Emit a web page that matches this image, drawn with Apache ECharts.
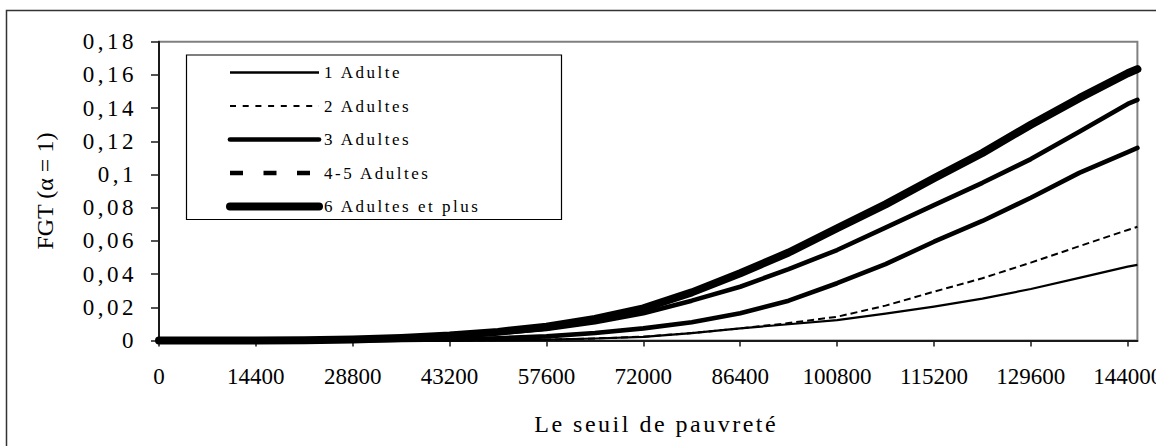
<!DOCTYPE html>
<html><head><meta charset="utf-8">
<script src="https://cdn.jsdelivr.net/npm/echarts@6/dist/echarts.min.js"></script>
<style>
html,body{margin:0;padding:0;background:#fff;}
#c{width:1156px;height:446px;}
svg text[style*="sp35"]{letter-spacing:3.5px;}
svg text[style*="sp25"]{letter-spacing:2.5px;}
</style></head><body><div id="c"></div>
<script>
// ---- data ----
const STEP = 1440;          // category step of the x axis
const X_MAX = 145440;       // last category
const xs = [0,7200,14400,21600,28800,36000,43200,50400,57600,64800,72000,79200,86400,93600,100800,108000,115200,122400,129600,136800,144000,145440];
const s1 = [0,0,0,0,0,0,0,0.0002,0.0005,0.0012,0.0022,0.0045,0.0073,0.0098,0.0123,0.0162,0.0204,0.0252,0.0310,0.0377,0.0445,0.0456];
const s2 = [0,0,0,0,0,0,0,0.0002,0.0005,0.0012,0.0023,0.0045,0.0073,0.0105,0.0143,0.0210,0.0294,0.0375,0.0469,0.0568,0.0666,0.0685];
const s3 = [0,0,0,0,0,0.0003,0.0007,0.0014,0.0025,0.0045,0.0073,0.0110,0.0164,0.0240,0.0345,0.0460,0.0595,0.0720,0.0860,0.1010,0.1135,0.1160];
const s4 = [0,0,0,0.0002,0.0005,0.0012,0.0025,0.0045,0.0070,0.0110,0.0164,0.0240,0.0324,0.0430,0.0545,0.0680,0.0816,0.0950,0.1093,0.1258,0.1425,0.1450];
const s5 = [0,0,0,0.0002,0.0006,0.0015,0.0030,0.0052,0.0083,0.0130,0.0194,0.0290,0.0405,0.0530,0.0676,0.0820,0.0977,0.1130,0.1300,0.1460,0.1610,0.1635];
const seriesNames = ['1 Adulte','2 Adultes','3 Adultes','4-5 Adultes','6 Adultes et plus'];
const seriesValues = [s1,s2,s3,s4,s5];
const yMin = 0, yMax = 0.18, yStep = 0.02;
const labelEvery = 10;      // categories between x tick labels
const xTitle = 'Le seuil de pauvreté';
const yTitle = 'FGT (\u03b1 = 1)';

// ---- styles ----
const serif = "'Liberation Serif'";
const lineStyles = [
  {width:2.2, type:'solid', cap:'butt'},
  {width:2, type:[7,4], cap:'butt'},
  {width:4.6, type:'solid', cap:'round'},
  {width:4.6, type:'solid', cap:'round'},
  {width:8, type:'solid', cap:'round'}
];
const legendLineStyles = [
  {width:2.5, type:'solid', cap:'butt'},
  {width:2.2, type:[6,6.7], cap:'butt'},
  {width:4.7, type:'solid', cap:'round'},
  {width:4.7, type:[13,20.5], cap:'butt'},
  {width:8, type:'solid', cap:'round'}
];

const categories = [];
for (let v = 0; v <= X_MAX; v += STEP) categories.push(String(v));

const chart = echarts.init(document.getElementById('c'), null, {renderer:'svg'});
chart.setOption({
  animation:false,
  backgroundColor:'#fff',
  grid:{left:159, top:41.7, right:18.6, bottom:105.5, show:true, borderColor:'#808080', borderWidth:2, backgroundColor:'transparent', containLabel:false, outerBoundsMode:'none'},
  graphic:[
    {type:'rect', shape:{x:6.5, y:10.5, width:1300, height:600}, style:{fill:'none', stroke:'#333', lineWidth:1.5}, silent:true},
    {type:'rect', shape:{x:186.5, y:55, width:375, height:164.5}, style:{fill:'none', stroke:'#000', lineWidth:1.2}, silent:true, z:10}
  ],
  legend:{
    left:226, top:64, orient:'vertical', padding:0,
    itemWidth:89, itemHeight:17, itemGap:16.5,
    itemStyle:{opacity:0, borderWidth:0},
    textStyle:{fontFamily:serif+", sp25", fontSize:17, color:'#000'},
    data: seriesNames.map((n,i)=>({name:n, lineStyle:Object.assign({color:'#000'}, legendLineStyles[i])}))
  },
  xAxis:{
    type:'category', data:categories, boundaryGap:false,
    name:xTitle, nameLocation:'middle', nameGap:71.5, nameMoveOverlap:false,
    nameTextStyle:{fontFamily:serif+", sp25", fontSize:24, color:'#000', padding:[0,0,0,16]},
    axisLine:{show:true, lineStyle:{color:'#1a1a1a', width:2}},
    axisTick:{show:true, length:6, interval:(i)=>i%labelEvery===0, lineStyle:{color:'#1a1a1a', width:1.5}},
    axisLabel:{show:true, interval:(i)=>i%labelEvery===0, margin:24.5, fontFamily:serif, fontSize:23, color:'#000', hideOverlap:false},
    splitLine:{show:false}
  },
  yAxis:{
    type:'value', min:yMin, max:yMax, interval:yStep,
    name:yTitle, nameLocation:'middle', nameGap:102, nameMoveOverlap:false,
    nameTextStyle:{fontFamily:serif, fontSize:24, color:'#000'},
    axisLine:{show:true, lineStyle:{color:'#1a1a1a', width:2}},
    axisTick:{show:true, length:8, lineStyle:{color:'#1a1a1a', width:1.5}},
    axisLabel:{margin:22, fontFamily:serif+", sp35", fontSize:23, color:'#000',
      formatter:(v)=> v===0 ? '0' : String(+v.toFixed(2)).replace('.', ',')},
    splitLine:{show:false}
  },
  series: seriesNames.map((n,i)=>({
    name:n, type:'line', symbol:'none', clip:false, smooth:false,
    color:'#000',
    lineStyle:Object.assign({color:'#000', join:'round'}, lineStyles[i]),
    data: xs.map((x,k)=>[String(x), seriesValues[i][k]])
  }))
});
</script></body></html>
